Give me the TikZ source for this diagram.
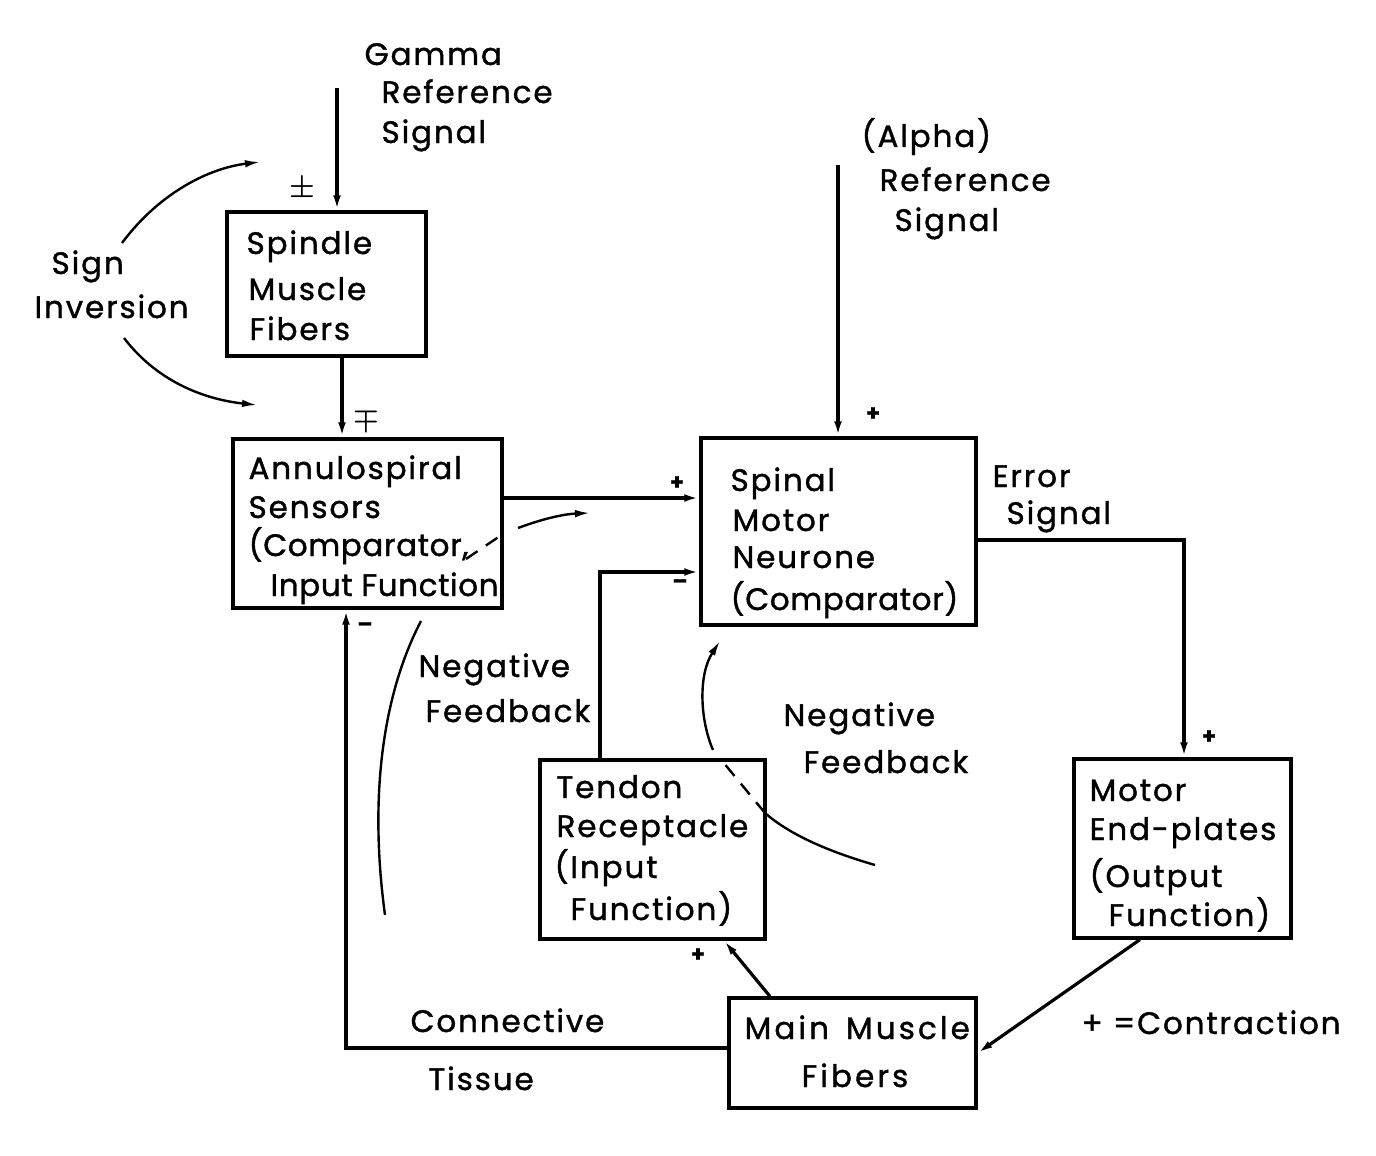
\documentclass[tikz,border=0pt]{standalone}
\usepackage{fontspec}
\setmainfont{Poppins}[LetterSpace=6,FakeBold=1.2]
\newfontfamily\tightfont{Poppins}[LetterSpace=2,FakeBold=1.2]
\newfontfamily\widefont{Poppins}[LetterSpace=10,FakeBold=1.2]
\usetikzlibrary{arrows.meta,fit}
\begin{document}
\begin{tikzpicture}[x=0.5pt,y=-0.5pt,
  line width=1.6pt,
  box/.style={draw, inner sep=0pt},
  arr/.style={-{Latex[length=7.5pt,width=3.8pt]}},
  thin/.style={line width=1.2pt},
  lbl/.style={anchor=base west, inner sep=0pt, font=\fontsize{15.5}{18}\selectfont},
  tlbl/.style={lbl, font=\fontsize{15.5}{18}\tightfont},
  wlbl/.style={lbl, font=\fontsize{15.5}{18}\widefont},
  sgn/.style={anchor=center, inner sep=0pt, font=\fontsize{11}{12}\selectfont\bfseries},
  msgn/.style={anchor=center, inner sep=0pt, font=\fontsize{14}{15}\selectfont\boldmath},
  dsh/.style={dash pattern=on 7pt off 5pt}]
\useasboundingbox (0,0) rectangle (1376,1156);
% boxes
\node[box, fit={(227,212) (426,356)}] (spindle) {};
\node[box, fit={(233,439) (502,608)}] (annulo) {};
\node[box, fit={(701,438) (976,625)}] (spinal) {};
\node[box, fit={(540,760) (765,939)}] (tendon) {};
\node[box, fit={(1074,759) (1291,938)}] (motorep) {};
\node[box, fit={(729,998) (976,1108)}] (main) {};
% box texts
\node[lbl] (t1) at (245,254) {Spindle};
\node[lbl] (t2) at (247,300) {Muscle};
\node[lbl] (t3) at (248,340) {Fibers};
\node[lbl] (t4) at (247,479) {Annulospiral};
\node[lbl] (t5) at (247,518) {Sensors};
\node[tlbl] (t6) at (247,556) {(Comparator,};
\node[tlbl] (t7) at (269,596) {Input Function};
\node[lbl] (t8) at (729,491) {Spinal};
\node[lbl] (t9) at (731,531) {Motor};
\node[lbl] (t10) at (731,568) {Neurone};
\node[tlbl] (t11) at (729,610) {(Comparator)};
\node[lbl] (t12) at (555,798) {Tendon};
\node[lbl] (t13) at (555,837) {Receptacle};
\node[lbl] (t14) at (553,878) {(Input};
\node[lbl] (t15) at (569,920) {Function)};
\node[lbl] (t16) at (1088,801) {Motor};
\node[lbl] (t17) at (1088,840) {End-plates};
\node[lbl] (t18) at (1088,887) {(Output};
\node[lbl] (t19) at (1107,926) {Function)};
\node[wlbl] (t20) at (743,1039) {Main\hspace{8.5pt}Muscle};
\node[wlbl] (t21) at (800,1087) {Fibers};
% free labels
\node[lbl] (l1) at (363,65) {Gamma};
\node[lbl] (l2) at (380,103) {Reference};
\node[lbl] (l3) at (380,143) {Signal};
\node[lbl] (l4) at (860,147) {(Alpha)};
\node[lbl] (l5) at (878,191) {Reference};
\node[lbl] (l6) at (893,231) {Signal};
\node[lbl] (l7) at (50,274) {Sign};
\node[lbl] (l8) at (33,318) {Inversion};
\node[lbl] (l9) at (991,487) {Error};
\node[lbl] (l10) at (1005,524) {Signal};
\node[lbl] (l11) at (417,677) {Negative};
\node[lbl] (l12) at (424,722) {Feedback};
\node[lbl] (l13) at (782,726) {Negative};
\node[lbl] (l14) at (802,773) {Feedback};
\node[lbl] (l15) at (409,1032) {Connective};
\node[lbl] (l16) at (427,1090) {Tissue};
\node[lbl] (l17) at (1080,1034) {+ =Contraction};
% signs
\node[msgn] (s1) at (302,189) {$\pm$};
\node[msgn] (s2) at (366,419) {$\mp$};
\node[sgn] (s3) at (873,414) {+};
\node[sgn] (s4) at (677,483) {+};
\node[sgn] (s5) at (680,584) {--};
\node[sgn] (s6) at (1209,737) {+};
\node[sgn] (s7) at (698,955) {+};
\node[sgn] (s8) at (365,627) {--};
% helper coordinates
\coordinate (gtop) at (337,88);
\coordinate (atop) at (838,165);
\coordinate (x342) at (342,0);
\coordinate (x346) at (346,0);
\coordinate (x600) at (600,0);
\coordinate (x724) at (724,0);
\coordinate (x770) at (770,0);
\coordinate (x1140) at (1140,0);
\coordinate (x1184) at (1184,0);
\coordinate (y498) at (0,498);
\coordinate (y540) at (0,540);
\coordinate (y572) at (0,572);
\coordinate (y1048) at (0,1048);
\coordinate (y1053) at (0,1053);
% connectors
\draw[arr] (gtop) -- (gtop |- spindle.north);
\draw[arr] (spindle.south -| x342) -- (annulo.north -| x342);
\draw[arr] (atop) -- (atop |- spinal.north);
\draw[arr] (annulo.east |- y498) -- (spinal.west |- y498);
\draw[arr] (tendon.north -| x600) |- (spinal.west |- y572);
\draw[arr] (spinal.east |- y540) -| (motorep.north -| x1184);
\draw[arr] (motorep.south -| x1140) -- (main.east |- y1053);
\draw[arr] (main.north -| x770) -- (tendon.south -| x724);
\draw[arr] (main.west |- y1048) -| (annulo.south -| x346);
% sign inversion arcs
\coordinate (si1) at (122,243); \coordinate (si2) at (260,162);
\coordinate (si3) at (124,338); \coordinate (si4) at (257,405);
\draw[arr, thin] (si1) .. controls (160,192) and (210,168) .. (si2);
\draw[arr, thin] (si3) .. controls (160,385) and (210,400) .. (si4);
% left negative feedback loop
\coordinate (f1) at (385,915); \coordinate (f2) at (421,621);
\coordinate (f3) at (466,559); \coordinate (f4) at (500,536);
\coordinate (f5) at (518,528); \coordinate (f6) at (590,513);
\draw[thin] (f1) .. controls (368,790) and (385,690) .. (f2);
\draw[thin, dsh] (f3) -- (f4);
\draw[arr, thin] (f5) .. controls (545,518) and (565,514) .. (f6);
% right negative feedback loop
\coordinate (g1) at (875,865); \coordinate (g2) at (765,813);
\coordinate (g3) at (723,762); \coordinate (g4) at (713,750);
\coordinate (g5) at (720,641);
\draw[thin] (g1) .. controls (830,852) and (790,835) .. (g2);
\draw[thin, dsh] (g2) -- (g3);
\draw[arr, thin] (g4) .. controls (700,720) and (698,675) .. (g5);
\end{tikzpicture}
\end{document}
